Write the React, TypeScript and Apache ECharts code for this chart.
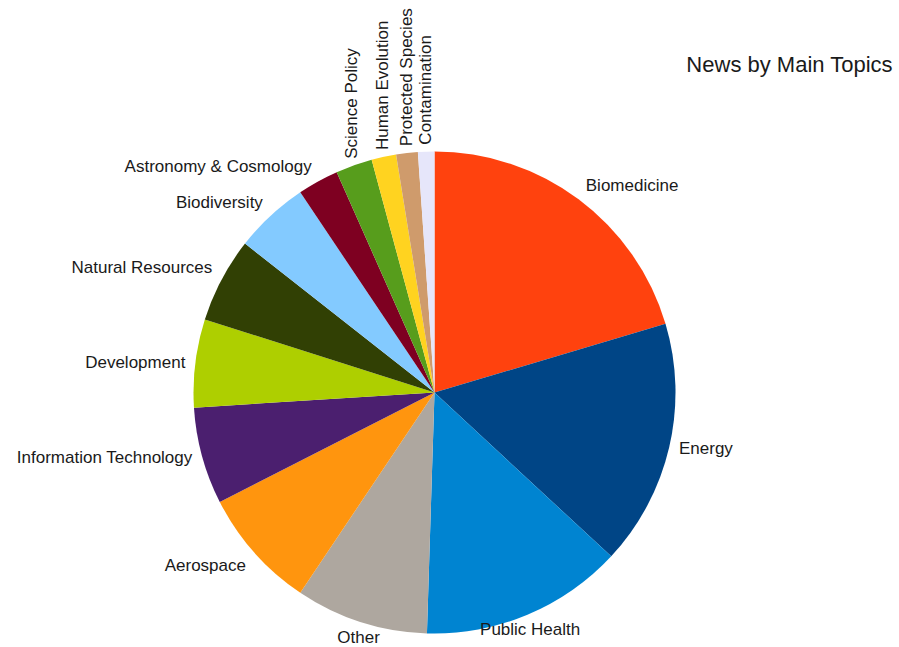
import React, { useEffect, useRef } from "react";
import * as echarts from "echarts";

const topics = [
  "Biomedicine",
  "Energy",
  "Public Health",
  "Other",
  "Aerospace",
  "Information Technology",
  "Development",
  "Natural Resources",
  "Biodiversity",
  "Astronomy & Cosmology",
  "Science Policy",
  "Human Evolution",
  "Protected Species",
  "Contamination",
];

const shares = [20.4, 16.5, 13.6, 8.9, 8.1, 6.5, 5.9, 5.7, 5.0, 2.75, 2.45, 1.65, 1.45, 1.1];

const sliceColors = [
  "#ff420e",
  "#004586",
  "#0084d1",
  "#aea79f",
  "#ff950e",
  "#4b1f6f",
  "#aecf00",
  "#314004",
  "#83caff",
  "#7e0021",
  "#579d1c",
  "#ffd320",
  "#cf9b6c",
  "#e6e6fa",
];

const chartTitle = "News by Main Topics";
const FONT = "'Liberation Sans', Arial, sans-serif";

export default function App() {
  const ref = useRef<HTMLDivElement>(null);

  useEffect(() => {
    if (!ref.current) return;
    const chart = echarts.init(ref.current, null, { renderer: "svg" });

    const data = topics.map((name, i) => ({
      name,
      value: shares[i],
      itemStyle: { color: sliceColors[i] },
    }));

    chart.setOption({
      animation: false,
      backgroundColor: "#ffffff",
      title: {
        text: chartTitle,
        right: 6,
        top: 52,
        padding: 0,
        textStyle: {
          fontFamily: FONT,
          fontSize: 22,
          fontWeight: "normal",
          color: "#1a1a1a",
          lineHeight: 24,
        },
      },
      series: [
        {
          type: "pie",
          center: [434.5, 392.5],
          radius: 241,
          startAngle: 90,
          clockwise: true,
          avoidLabelOverlap: false,
          itemStyle: { borderWidth: 0 },
          emphasis: { disabled: true },
          label: {
            show: true,
            position: "outside",
            fontFamily: FONT,
            fontSize: 17,
            color: "#1a1a1a",
          },
          labelLine: {
            show: true,
            length: 7,
            length2: 0,
            lineStyle: { opacity: 0, width: 0 },
          },
          labelLayout: (params: any) => {
            const pts = params.labelLinePoints;
            if (!pts || pts.length < 2) return {};
            const [x0, y0] = pts[0];
            const [x1, y1] = pts[1];
            const dx = x1 - x0;
            const dy = y1 - y0;
            let theta = (Math.atan2(dx, -dy) * 180) / Math.PI;
            if (theta < 0) theta += 360;
            const shift = 3;
            if (theta >= 337.5 || theta < 22.5) {
              return { x: x1, y: y1, rotate: 90, align: "left", verticalAlign: "middle" };
            }
            if (theta < 67.5) return { x: x1 + shift, y: y1, align: "left", verticalAlign: "bottom" };
            if (theta < 112.5) return { x: x1 + shift, y: y1, align: "left", verticalAlign: "middle" };
            if (theta < 155) return { x: x1 + shift, y: y1, align: "left", verticalAlign: "top" };
            if (theta < 205) return { x: x1, y: y1, align: "center", verticalAlign: "top" };
            if (theta < 247.5) return { x: x1 - shift, y: y1, align: "right", verticalAlign: "top" };
            if (theta < 292.5) return { x: x1 - shift, y: y1, align: "right", verticalAlign: "middle" };
            return { x: x1 - shift, y: y1, align: "right", verticalAlign: "bottom" };
          },
          data,
        },
      ],
    });

    return () => chart.dispose();
  }, []);

  return (
    <div
      ref={ref}
      style={{ position: "absolute", left: 0, top: 0, width: 899, height: 647 }}
    />
  );
}
